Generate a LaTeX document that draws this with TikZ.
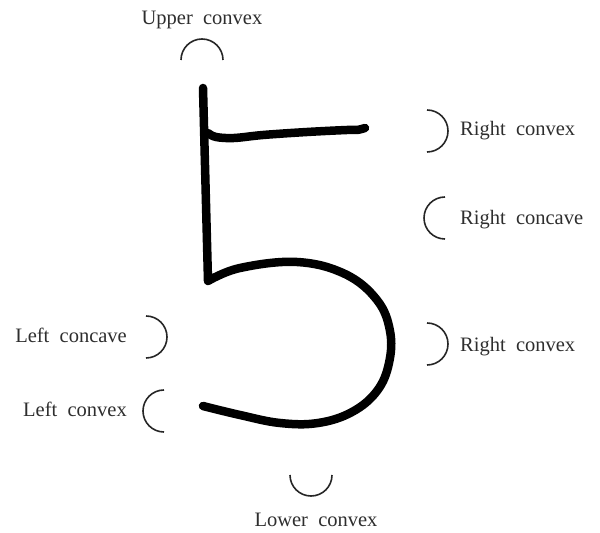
\documentclass[tikz,border=0pt]{standalone}
\usepackage{fontspec}
\setmainfont[WordSpace=2.0]{Liberation Serif}
\usepackage{tikz}
\usetikzlibrary{positioning}
\tikzset{
  pen/.style={line width=8.5pt, line cap=round, line join=round, black},
  arcmark/.style={line width=1.6pt, black!85},
  lbl/.style={inner sep=0pt, text=black!82, font=\fontsize{20.5}{24}\selectfont},
}

\begin{document}
\begin{tikzpicture}[x=1pt, y=1pt]
  \useasboundingbox (0,0) rectangle (600,533);

  % the handwritten five
  \draw[pen] (203,445) -- (208,252)
    plot[smooth, tension=0.65] coordinates {(208,252) (240,265) (297,271)
      (345,259) (377,233) (390,202) (389,170) (377,142) (352,121)
      (318,110) (280,110) (240,118) (203,127)};
  \draw[pen] plot[smooth, tension=0.6] coordinates {(208,400) (216,396) (234,395)
    (263,398) (307,401) (347,403) (357,403) (365,405)};

  % labels
  \node[lbl, anchor=base] (up) at (202,508) {Upper convex};
  \node[lbl, anchor=base west] (rx1) at (460,397) {Right convex};
  \node[lbl, anchor=base west] (rc) at (460,308) {Right concave};
  \node[lbl, anchor=base west] (rx2) at (460,181) {Right convex};
  \node[lbl, anchor=base east] (lc) at (127,190) {Left concave};
  \node[lbl, anchor=base east] (lx) at (127,116) {Left convex};
  \node[lbl, anchor=base] (lo) at (316,6) {Lower convex};

  % half circles
  \draw[arcmark] (181,473) arc[start angle=180, end angle=0, radius=21];
  \draw[arcmark] (427,423) arc[start angle=90, end angle=-90, radius=21];
  \draw[arcmark] (445,336) arc[start angle=90, end angle=270, radius=21];
  \draw[arcmark] (427,210) arc[start angle=90, end angle=-90, radius=21];
  \draw[arcmark] (146,217) arc[start angle=90, end angle=-90, radius=21];
  \draw[arcmark] (164,143) arc[start angle=90, end angle=270, radius=21];
  \draw[arcmark] (290,58) arc[start angle=180, end angle=360, radius=21];
\end{tikzpicture}
\end{document}
